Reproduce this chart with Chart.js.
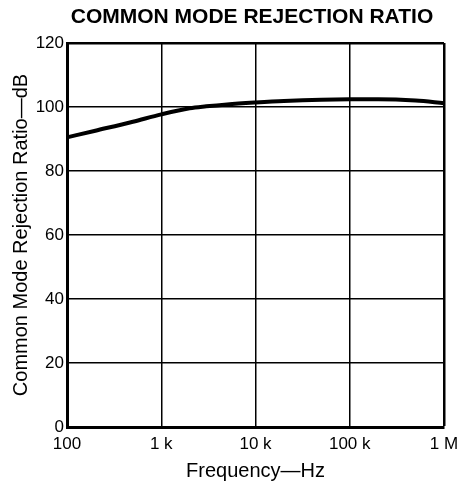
<!DOCTYPE html>
<html><head><meta charset="utf-8">
<script src="https://cdn.jsdelivr.net/npm/chart.js@4/dist/chart.umd.min.js"></script>
<style>html,body{margin:0;padding:0;background:#fff}#wrap{width:461px;height:484px}</style>
</head><body><div id="wrap"><canvas id="c" width="461" height="484"></canvas></div>
<script>
const frequencies = [100, 200, 500, 1000, 2000, 3000, 5000, 10000, 20000, 50000, 100000, 200000, 500000, 1000000];
const cmrrDb = [90.5, 92.6, 95.4, 97.7, 99.6, 100.2, 100.8, 101.4, 101.9, 102.3, 102.4, 102.4, 102.0, 101.2];
const xTickValues = [100, 1000, 10000, 100000, 1000000];
const xTickLabels = ['100', '1 k', '10 k', '100 k', '1 M'];
const yTickValues = [0, 20, 40, 60, 80, 100, 120];
const chartTitle = 'COMMON MODE REJECTION RATIO';

const FONT = "'Liberation Sans', Arial, Helvetica, sans-serif";

const titlePlugin = {
  id: 'topTitle',
  afterDraw(chart) {
    const ctx = chart.ctx;
    ctx.save();
    ctx.fillStyle = '#000';
    ctx.font = "bold 21px " + FONT;
    ctx.textAlign = 'center';
    ctx.textBaseline = 'middle';
    ctx.fillText(chartTitle, 252, 17);
    ctx.restore();
  }
};

new Chart(document.getElementById('c'), {
  type: 'line',
  data: { datasets: [{
    data: frequencies.map((f, i) => ({x: f, y: cmrrDb[i]})),
    borderColor: '#000', borderWidth: 4, pointRadius: 0,
    cubicInterpolationMode: 'monotone', fill: false, clip: false
  }]},
  plugins: [titlePlugin],
  options: {
    responsive: false, animation: false, devicePixelRatio: 1,
    layout: { padding: { left: 0, right: 17, top: 43, bottom: 0 } },
    plugins: {
      legend: { display: false }, tooltip: { enabled: false }, title: { display: false }
    },
    scales: {
      x: { type: 'logarithmic', min: 100, max: 1000000,
        afterBuildTicks: s => { s.ticks = xTickValues.map(v => ({value: v})); },
        afterFit: s => { s.height = 57; s.paddingRight = 0; s.paddingLeft = 0; },
        ticks: { color: '#000', font: { family: FONT, size: 17 }, padding: 7, maxRotation: 0, autoSkip: false,
          callback: (v) => { const i = xTickValues.indexOf(v); return i >= 0 ? xTickLabels[i] : ''; } },
        grid: { color: '#000', drawTicks: false,
          lineWidth: ctx => (ctx.tick && ctx.tick.value === 1000000) ? 2.5 : 1.5 },
        border: { display: true, color: '#000', width: 3 },
        title: { display: true, text: 'Frequency—Hz', color: '#000',
          font: { family: FONT, size: 20, lineHeight: 1.2 }, padding: { top: 0, bottom: 1 } }
      },
      y: { min: 0, max: 120,
        afterBuildTicks: s => { s.ticks = yTickValues.map(v => ({value: v})); },
        afterFit: s => { s.width = 67; s.paddingTop = 0; s.paddingBottom = 0; },
        ticks: { color: '#000', font: { family: FONT, size: 17 }, padding: 3 },
        grid: { color: '#000', drawTicks: false,
          lineWidth: ctx => (ctx.tick && ctx.tick.value === 120) ? 2.5 : 1.5 },
        border: { display: true, color: '#000', width: 3 },
        title: { display: true, text: 'Common Mode Rejection Ratio—dB', color: '#000',
          font: { family: FONT, size: 20, lineHeight: 1.2 }, padding: { top: 9, bottom: 0 } }
      }
    }
  }
});
</script></body></html>
